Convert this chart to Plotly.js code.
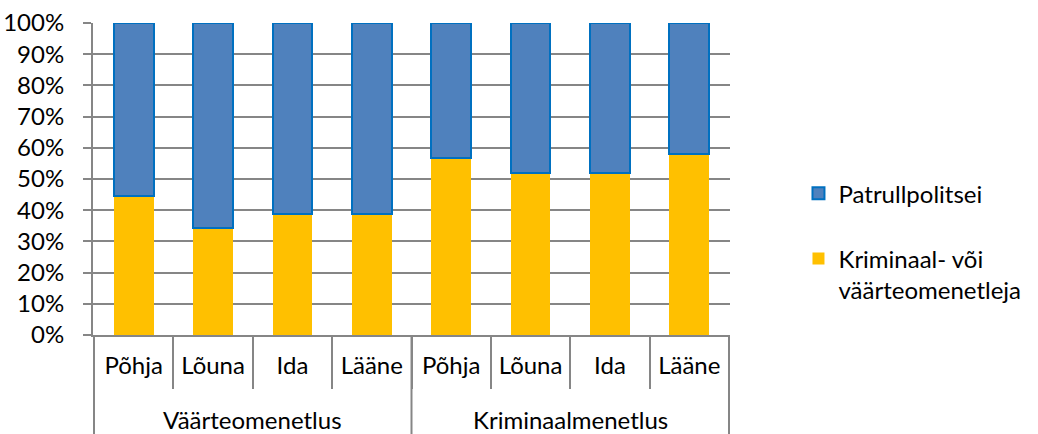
<!DOCTYPE html>
<html>
<head>
<meta charset="utf-8">
<script src="https://cdn.plot.ly/plotly-3.0.1.min.js"></script>
<style>html,body{margin:0;padding:0;background:#fff;}#chart{width:1038px;height:434px;}</style>
</head>
<body>
<div id="chart"></div>
<script>
const groups = ["Väärteomenetlus","Väärteomenetlus","Väärteomenetlus","Väärteomenetlus","Kriminaalmenetlus","Kriminaalmenetlus","Kriminaalmenetlus","Kriminaalmenetlus"];
const regions = ["Põhja","Lõuna","Ida","Lääne","Põhja","Lõuna","Ida","Lääne"];
const groupNames = ["Väärteomenetlus","Kriminaalmenetlus"];
const menetleja = [0.447, 0.344, 0.387, 0.387, 0.567, 0.518, 0.518, 0.581];
const patrull = menetleja.map(v => 1 - v);
const seriesNames = ["Patrullpolitsei", "Kriminaal- või<br>väärteomenetleja"];
const tickVals = [0,0.1,0.2,0.3,0.4,0.5,0.6,0.7,0.8,0.9,1.0];
const tickText = ["0%","10%","20%","30%","40%","50%","60%","70%","80%","90%","100%"];

const keys = regions.map((r, i) => groups[i] + " · " + r);
const FONT = "Lato, 'Open Sans', sans-serif";
const font = {family: FONT, size: 24, color: "#000"};
const gray = "#868686";

const traces = [
  {type:"bar", name: seriesNames[1], x: keys, y: menetleja,
   marker:{color:"#FFC000", line:{width:0}}, legendgroup:"g2", legendrank:2},
  {type:"bar", name: seriesNames[0], x: keys, y: patrull,
   marker:{color:"#4F81BD", line:{color:"#0070C0", width:2}}, legendgroup:"g1", legendrank:1}
];

// group labels and long divider lines, placed through the x category scale
const perGroup = regions.length / groupNames.length;
const annotations = groupNames.map((g, gi) => ({
  text: g, xref:"x", yref:"paper", x: gi*perGroup + (perGroup-1)/2, y: -0.272,
  xanchor:"center", yanchor:"middle", showarrow:false, font: font
}));
const shapes = [];
for (let gi = 0; gi <= groupNames.length; gi++) {
  shapes.push({type:"line", xref:"x", yref:"paper", x0: gi*perGroup - 0.5, x1: gi*perGroup - 0.5,
               y0: 0, y1: -0.33, line:{color: gray, width: 2}});
}

const layout = {
  width:1038, height:434,
  margin:{l:93, r:303, t:23, b:99},
  barmode:"stack",
  bargap:0.5,
  paper_bgcolor:"#fff", plot_bgcolor:"#fff",
  font: font,
  showlegend:true,
  legend:{x:1.1075, xanchor:"left", y:0.525, yanchor:"top", traceorder:"grouped", valign:"top",
          tracegroupgap:31, font:{family:FONT, size:24, color:"#000"}, itemwidth:30},
  xaxis:{type:"category", tickvals: keys, ticktext: regions, tickson:"boundaries",
         showline:true, linecolor:gray, linewidth:2,
         ticks:"outside", ticklen:52, tickcolor:gray, tickwidth:2, ticklabelstandoff:8,
         tickfont:font, showgrid:false, zeroline:false, tickangle:0},
  yaxis:{range:[0,1], tickvals:tickVals, ticktext:tickText, showgrid:true,
         gridcolor:gray, gridwidth:2, showline:true, linecolor:gray, linewidth:2,
         ticks:"outside", ticklen:8, tickcolor:gray, tickwidth:2, zeroline:false,
         ticklabelstandoff:14, tickfont:font},
  annotations: annotations,
  shapes: shapes
};

Plotly.newPlot("chart", traces, layout, {displayModeBar:false, staticPlot:true});
</script>
</body>
</html>
